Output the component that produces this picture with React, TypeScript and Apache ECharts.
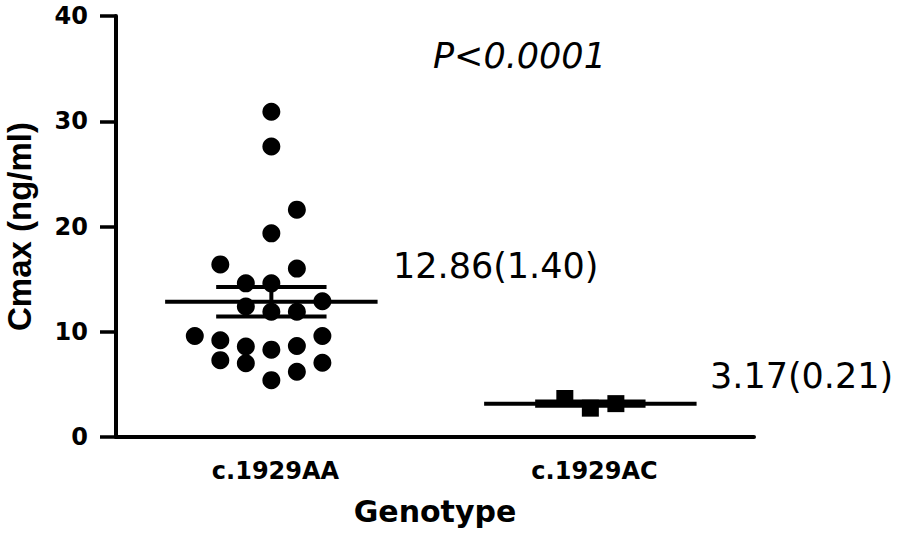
import React, { useEffect, useRef } from "react";
import * as echarts from "echarts";

// Categories (genotypes)
const categories = ["c.1929AA", "c.1929AC"];

// Individual Cmax values (ng/ml) and their beeswarm column index
const aaValues = [
  9.6,
  16.4, 9.2, 7.3,
  14.6, 12.4, 8.6, 7.0,
  30.9, 27.6, 19.35, 14.6, 11.9, 8.3, 5.4,
  21.6, 16.0, 11.9, 8.65, 6.2,
  12.9, 9.6, 7.06,
];
const aaColumns = [
  -3,
  -2, -2, -2,
  -1, -1, -1, -1,
  0, 0, 0, 0, 0, 0, 0,
  1, 1, 1, 1, 1,
  2, 2, 2,
];
const acValues = [3.66, 2.74, 3.17];
const acColumns = [-1, 0, 1];

// Summary statistics: mean (SEM)
const means = [12.86, 3.17];
const sems = [1.4, 0.21];
const summaryLabels = ["12.86(1.40)", "3.17(0.21)"];
const pValueText = "P<0.0001";

// Y axis ticks
const yMin = 0;
const yMax = 40;
const yInterval = 10;

const COLUMN_STEP = 0.08;
const GROUP_SHIFT = -0.013;
const MEAN_HALF = 0.333;
const SEM_HALF = 0.173;

export default function App() {
  const ref = useRef<HTMLDivElement>(null);

  useEffect(() => {
    if (!ref.current) return;
    const chart = echarts.init(ref.current, null, { renderer: "svg" });

    const aaData = aaValues.map((v, i) => [1 + GROUP_SHIFT + aaColumns[i] * COLUMN_STEP, v]);
    const acData = acValues.map((v, i) => [2 + GROUP_SHIFT + acColumns[i] * COLUMN_STEP, v]);
    const summaryData = means.map((m, i) => [i + 1, m, sems[i]]);

    const font = "DejaVu Sans";

    chart.setOption({
      animation: false,
      backgroundColor: "#fff",
      grid: {
        left: 116,
        right: 144,
        top: 16,
        bottom: 100,
        containLabel: false,
        outerBoundsMode: "none",
      },
      xAxis: [
        {
          type: "category",
          data: categories,
          boundaryGap: true,
          name: "Genotype",
          nameLocation: "middle",
          nameGap: 59,
          nameTextStyle: { fontFamily: font, fontWeight: "bold", fontSize: 30, color: "#000" },
          axisLine: { lineStyle: { color: "#000", width: 4 } },
          axisTick: { alignWithLabel: true, length: 12, lineStyle: { color: "#000", width: 3.5 } },
          axisLabel: { fontFamily: font, fontWeight: "bold", fontSize: 24, color: "#000", margin: 22 },
          splitLine: { show: false },
        },
        {
          type: "value",
          min: 0.5,
          max: 2.5,
          show: false,
          splitLine: { show: false },
        },
      ],
      yAxis: {
        type: "value",
        min: yMin,
        max: yMax,
        interval: yInterval,
        name: "Cmax (ng/ml)",
        nameLocation: "middle",
        nameGap: 80,
        nameTextStyle: { fontFamily: "Liberation Sans", fontWeight: "bold", fontSize: 33, color: "#000" },
        axisLine: { show: true, lineStyle: { color: "#000", width: 4 } },
        axisTick: { show: true, length: 16, lineStyle: { color: "#000", width: 3.5 } },
        axisLabel: { fontFamily: font, fontWeight: "bold", fontSize: 24, color: "#000", margin: 28 },
        splitLine: { show: false },
      },
      series: [
        {
          type: "scatter",
          xAxisIndex: 1,
          symbol: "circle",
          symbolSize: 18,
          itemStyle: { color: "#000", opacity: 1 },
          data: aaData,
          z: 3,
        },
        {
          type: "scatter",
          xAxisIndex: 1,
          symbol: "rect",
          symbolSize: 17,
          itemStyle: { color: "#000", opacity: 1 },
          data: acData,
          z: 3,
        },
        {
          type: "custom",
          xAxisIndex: 1,
          data: summaryData,
          z: 4,
          renderItem: (params: any, api: any) => {
            const x = api.value(0) + GROUP_SHIFT;
            const m = api.value(1);
            const s = api.value(2);
            const ml = api.coord([x - MEAN_HALF, m]);
            const mr = api.coord([x + MEAN_HALF, m]);
            const ul = api.coord([x - SEM_HALF, m + s]);
            const ur = api.coord([x + SEM_HALF, m + s]);
            const ll = api.coord([x - SEM_HALF, m - s]);
            const lr = api.coord([x + SEM_HALF, m - s]);
            const ct = api.coord([x, m + s]);
            const cb = api.coord([x, m - s]);
            const st = { stroke: "#000", lineWidth: 4 };
            return {
              type: "group",
              children: [
                { type: "line", shape: { x1: ml[0], y1: ml[1], x2: mr[0], y2: mr[1] }, style: st },
                { type: "line", shape: { x1: ul[0], y1: ul[1], x2: ur[0], y2: ur[1] }, style: st },
                { type: "line", shape: { x1: ll[0], y1: ll[1], x2: lr[0], y2: lr[1] }, style: st },
                { type: "line", shape: { x1: ct[0], y1: ct[1], x2: cb[0], y2: cb[1] }, style: st },
              ],
            };
          },
        },
      ],
      graphic: [
        {
          type: "text",
          left: 433,
          top: 38,
          style: { text: pValueText, font: `italic 35px "${font}"`, fill: "#000" },
        },
        {
          type: "text",
          left: 393,
          top: 248,
          style: { text: summaryLabels[0], font: `35px "${font}"`, fill: "#000" },
        },
        {
          type: "text",
          left: 710,
          top: 358,
          style: { text: summaryLabels[1], font: `35px "${font}"`, fill: "#000" },
        },
      ],
    });

    return () => chart.dispose();
  }, []);

  return (
    <div
      ref={ref}
      style={{ position: "fixed", left: 0, top: 0, width: 898, height: 537, background: "#fff" }}
    />
  );
}
